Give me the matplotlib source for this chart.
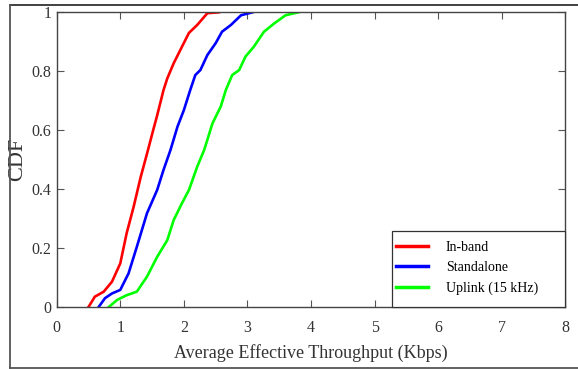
import matplotlib
matplotlib.use("Agg")
import matplotlib.pyplot as plt
from matplotlib.lines import Line2D
from matplotlib.patches import Rectangle

# Data
inband_x = [0.5, 0.6, 0.74, 0.87, 1.0, 1.1, 1.21, 1.32, 1.42, 1.53, 1.58, 1.68, 1.74, 1.84, 1.97, 2.08, 2.21, 2.37, 2.55]
inband_y = [0.0, 0.035, 0.052, 0.086, 0.148, 0.25, 0.34, 0.44, 0.52, 0.61, 0.65, 0.736, 0.776, 0.827, 0.883, 0.93, 0.957, 0.997, 1.0]

standalone_x = [0.66, 0.76, 0.87, 1.0, 1.13, 1.26, 1.42, 1.58, 1.68, 1.79, 1.9, 2.0, 2.1, 2.18, 2.26, 2.37, 2.5, 2.6, 2.74, 2.9, 3.08]
standalone_y = [0.0, 0.03, 0.046, 0.058, 0.114, 0.204, 0.318, 0.397, 0.465, 0.533, 0.612, 0.668, 0.736, 0.787, 0.804, 0.855, 0.895, 0.934, 0.957, 0.99, 1.0]

uplink_x = [0.82, 0.95, 1.1, 1.26, 1.42, 1.58, 1.74, 1.84, 1.97, 2.08, 2.21, 2.32, 2.45, 2.58, 2.66, 2.76, 2.87, 2.97, 3.1, 3.26, 3.42, 3.6, 3.8]
uplink_y = [0.0, 0.024, 0.04, 0.052, 0.103, 0.17, 0.227, 0.295, 0.352, 0.397, 0.476, 0.533, 0.623, 0.68, 0.736, 0.787, 0.804, 0.85, 0.883, 0.934, 0.962, 0.99, 1.0]

labels = ["In-band", "Standalone", "Uplink (15 kHz)"]
colors = ["#ff0000", "#0000ff", "#00ff00"]
x_ticks = [0, 1, 2, 3, 4, 5, 6, 7, 8]
y_ticks = [0, 0.2, 0.4, 0.6, 0.8, 1]
y_ticklabels = ["0", "0.2", "0.4", "0.6", "0.8", "1"]

plt.rcParams["font.family"] = ["Liberation Serif", "DejaVu Serif"]

W, H = 578, 369
fig = plt.figure(figsize=(W / 100, H / 100), dpi=100)

# outer frame lines (figure pixels)
fc = "#555555"
fig.add_artist(Line2D([10 / W, 1.0], [1 - 5 / H, 1 - 5 / H], transform=fig.transFigure, color="#333333", lw=1.3))
fig.add_artist(Line2D([10 / W, 10 / W], [1 - 5 / H, 1 - 367.5 / H], transform=fig.transFigure, color=fc, lw=1.3))
fig.add_artist(Line2D([10 / W, 1.0], [1 - 367.5 / H, 1 - 367.5 / H], transform=fig.transFigure, color=fc, lw=1.3))

left, right, top, bottom = 56.7, 565.3, 12.3, 307
ax = fig.add_axes([left / W, 1 - bottom / H, (right - left) / W, (bottom - top) / H])

for xs, ys, c, lab in zip([inband_x, standalone_x, uplink_x], [inband_y, standalone_y, uplink_y], colors, labels):
    ax.plot(xs, ys, color=c, lw=1.9, label=lab)

ax.set_xlim(0, 8)
ax.set_ylim(0, 1)
ax.set_xticks(x_ticks)
ax.set_xticklabels([str(t) for t in x_ticks])
ax.set_yticks(y_ticks)
ax.set_yticklabels(y_ticklabels)
ax.tick_params(direction="in", top=True, right=True, length=5, width=0.8,
               color="#555555", labelsize=11.5, labelcolor="#333333")
ax.tick_params(axis="x", pad=9)
ax.tick_params(axis="y", pad=4)
for s in ax.spines.values():
    s.set_color("#444444")
    s.set_linewidth(1.0)

ax.set_xlabel("Average Effective Throughput (Kbps)", fontsize=13, color="#333333", labelpad=6)
ax.set_ylabel("CDF", fontsize=16, color="#333333", labelpad=3)

# legend box
box_x0 = (392 - left) / (right - left)
box_h = (bottom - 231) / (bottom - top)
ax.add_patch(Rectangle((box_x0, 0), 1 - box_x0, box_h, transform=ax.transAxes,
                       facecolor="white", edgecolor="#333333", lw=0.9, zorder=5, clip_on=False))
leg = ax.legend(loc="center left", bbox_to_anchor=((395.7 - left) / (right - left), (bottom - 268) / (bottom - top)),
                fontsize=10, frameon=False, borderaxespad=0, borderpad=0, handlelength=2.3,
                handletextpad=1.3, labelspacing=0.55)
leg.set_zorder(6)
for h in leg.get_lines():
    h.set_linewidth(2.5)

fig.savefig("out.png", dpi=100)
